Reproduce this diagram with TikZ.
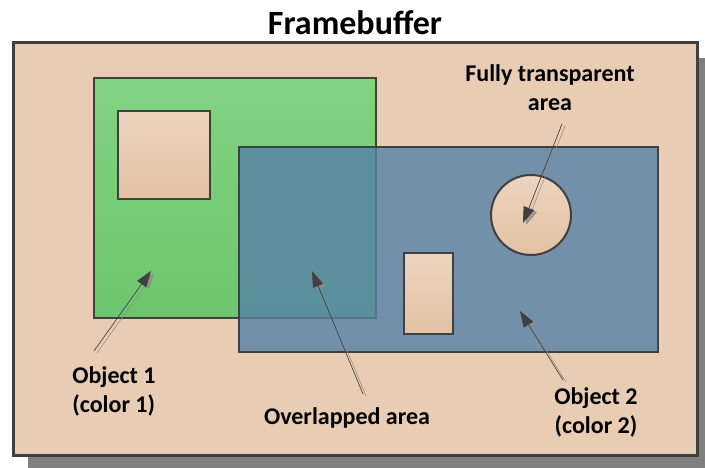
\documentclass[tikz,border=0pt]{standalone}
\usepackage{fontspec}
\setmainfont{Carlito}
\usetikzlibrary{arrows.meta}
\definecolor{peach}{HTML}{E8CDB4}
\definecolor{peachdark}{HTML}{E3C1A2}
\definecolor{peachlight}{HTML}{ECD4BF}
\definecolor{edge}{HTML}{404040}
\definecolor{greentop}{HTML}{82D282}
\definecolor{greenbottom}{HTML}{6CC66C}
\definecolor{objblue}{HTML}{5681A8}
\tikzset{
  box/.style={draw=edge, line width=2pt, inner sep=0pt, outer sep=0pt},
  hole/.style={box, top color=peachlight, bottom color=peachdark},
  lbl/.style={font=\bfseries\fontsize{24}{29}\selectfont, align=center, text=black},
  callout/.style={-{Triangle[length=16pt,width=11pt]}, line width=0.6pt, draw=black!75, fill=black!75},
  calloutshadow/.style={callout, draw=black!45, fill=black!45, opacity=0.8}
}
\begin{document}
\begin{tikzpicture}[x=1pt, y=-1pt]
    \useasboundingbox (0,0) rectangle (705,468);
    % frame with its shadow
    \fill[black!50] (28,58) rectangle (705,468);
    \node[box, line width=3pt, fill=peach, minimum width=684pt, minimum height=412pt] at (355,249) (FB) {};
    \node[lbl, font=\bfseries\fontsize{34}{40}\selectfont] at (355,23) (T) {Framebuffer};

    % object 1
    \node[box, top color=greentop, bottom color=greenbottom, minimum width=282pt, minimum height=240pt] at (235,198) (O1) {};
    \node[hole, minimum width=92pt, minimum height=88pt] at (164,155) (H1) {};

    % object 2, drawn over object 1
    \node[box, fill=objblue, fill opacity=0.8, minimum width=419pt, minimum height=205pt] at (448.5,249.5) (O2) {};
    \node[hole, circle, minimum size=80pt] at (531,215) (C) {};
    \node[hole, minimum width=49pt, minimum height=81pt] at (428.5,293.5) (H2) {};

    % labels
    \node[lbl, align=left] at (114,391) (L1) {Object 1\\(color 1)};
    \node[lbl] at (347,418) (L2) {Overlapped area};
    \node[lbl] at (550,88) (L3) {Fully transparent\\area};
    \node[lbl] at (596,412) (L4) {Object 2\\(color 2)};

    % callout ends
    \coordinate (a1) at (94,351);  \coordinate (b1) at (151,271);
    \coordinate (a2) at (363,394); \coordinate (b2) at (312,271);
    \coordinate (a3) at (562,124); \coordinate (b3) at (523,223);
    \coordinate (a4) at (563,380); \coordinate (b4) at (520,311);

    \foreach \i in {1,2,3,4} {
        \draw[calloutshadow, transform canvas={shift={(3pt,-2pt)}}] (a\i) -- (b\i);
        \draw[callout] (a\i) -- (b\i);
    }
\end{tikzpicture}
\end{document}
